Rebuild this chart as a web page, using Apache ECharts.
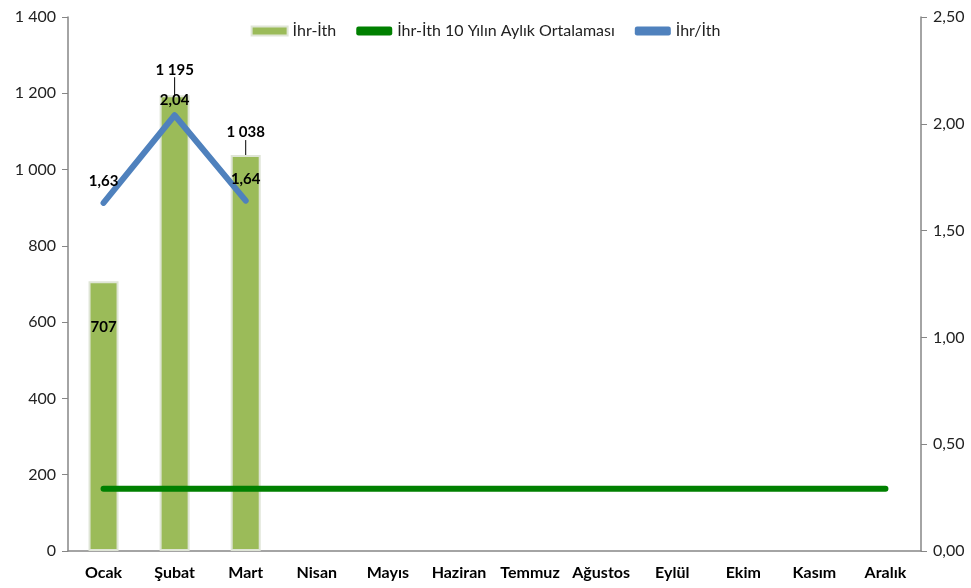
<!DOCTYPE html>
<html><head><meta charset="utf-8">
<script src="https://cdn.jsdelivr.net/npm/echarts@6/dist/echarts.min.js"></script>
<style>html,body{margin:0;padding:0;background:#fff}#c{width:971px;height:588px}</style>
</head><body><div id="c"></div>
<script>
const months = ['Ocak','Şubat','Mart','Nisan','Mayıs','Haziran','Temmuz','Ağustos','Eylül','Ekim','Kasım','Aralık'];
const diffValues = [707, 1195, 1038, null, null, null, null, null, null, null, null, null];
const avg10Values = [163,163,163,163,163,163,163,163,163,163,163,163];
const ratioValues = [1.63, 2.04, 1.64, null, null, null, null, null, null, null, null, null];
const leftTicks = {min:0, max:1400, interval:200};
const rightTicks = {min:0, max:2.5, interval:0.5};

const fmtThousand = v => String(v).replace(/\B(?=(\d{3})+(?!\d))/g, ' ');
const fmtComma = v => v.toFixed(2).replace('.', ',');
const FONT = 'Lato, "Open Sans", sans-serif';

const barLabelDy = [58, -13, -10];
const ratioLabelDistance = [14, 8, 14];

const chart = echarts.init(document.getElementById('c'));
chart.setOption({
  animation:false,
  textStyle:{fontFamily:FONT},
  grid:{left:68, right:50, top:17, bottom:37},
  legend:{
    top:18, left:'center', itemGap:20, itemWidth:36, itemHeight:9,
    textStyle:{fontFamily:FONT, fontSize:16, color:'#222'},
    data:[
      {name:'İhr-İth', icon:'rect'},
      {name:'İhr-İth 10 Yılın Aylık Ortalaması', icon:'roundRect', itemStyle:{color:'#008000'}},
      {name:'İhr/İth', icon:'roundRect', itemStyle:{color:'#4F81BD'}}
    ]
  },
  xAxis:{
    type:'category', data:months,
    axisLine:{lineStyle:{color:'#868686', width:1.5}},
    axisTick:{show:false},
    axisLabel:{interval:0, fontFamily:FONT, fontWeight:'bold', fontSize:16, color:'#000', margin:14}
  },
  yAxis:[
    {type:'value', ...leftTicks,
     axisLine:{show:true, lineStyle:{color:'#868686', width:1.5}},
     axisTick:{show:true, inside:false, length:6, lineStyle:{color:'#868686'}},
     splitLine:{show:false},
     axisLabel:{fontFamily:FONT, fontSize:16, color:'#222', margin:12, formatter:fmtThousand}},
    {type:'value', ...rightTicks, position:'right',
     axisLine:{show:true, lineStyle:{color:'#868686', width:1.5}},
     axisTick:{show:true, inside:false, length:6, lineStyle:{color:'#868686'}},
     splitLine:{show:false},
     axisLabel:{fontFamily:FONT, fontSize:16, color:'#222', margin:12, formatter:fmtComma}}
  ],
  series:[
    {name:'İhr-İth', type:'bar', yAxisIndex:0, data:diffValues, barWidth:30,
     itemStyle:{color:'#9BBB59', borderColor:'#dfe5d6', borderWidth:2},
     label:{show:true, position:'top', fontFamily:FONT, fontWeight:'bold', fontSize:15, color:'#000',
            formatter:p => fmtThousand(p.value)},
     labelLayout:function(params){
       return {dy: barLabelDy[params.dataIndex] || 0};
     },
     labelLine:{show:true, lineStyle:{color:'#000', width:1}},
     z:2},
    {name:'İhr-İth 10 Yılın Aylık Ortalaması', type:'line', yAxisIndex:0, data:avg10Values,
     symbol:'none', lineStyle:{color:'#008000', width:6, cap:'round'}, itemStyle:{color:'#008000'}, z:3},
    {name:'İhr/İth', type:'line', yAxisIndex:1,
     data:ratioValues.map((v,i) => v == null ? v : {value:v, label:{distance:ratioLabelDistance[i]}}),
     symbol:'circle', symbolSize:0, showSymbol:true,
     lineStyle:{color:'#4F81BD', width:6, cap:'round', join:'round'}, itemStyle:{color:'#4F81BD'},
     label:{show:true, position:'top', fontFamily:FONT, fontWeight:'bold', fontSize:15, color:'#000',
            formatter:p => fmtComma(p.value)},
     z:4}
  ]
});
</script></body></html>
